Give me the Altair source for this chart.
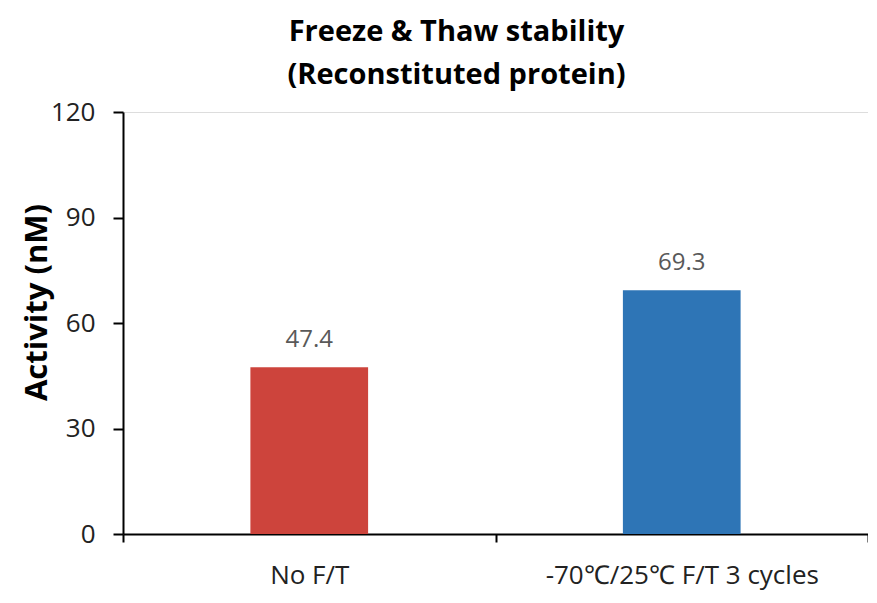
import altair as alt
import pandas as pd

categories = ["No F/T", "-70℃/25℃ F/T 3 cycles"]
values = [47.4, 69.3]
bar_colors = ["#cd443c", "#2e75b6"]
value_labels = ["47.4", "69.3"]
y_ticks = [0, 30, 60, 90, 120]

df = pd.DataFrame({"cat": categories, "val": values, "color": bar_colors, "lab": value_labels})

FONT = "Open Sans"

x = alt.X(
    "cat:N",
    sort=categories,
    title=None,
    scale=alt.Scale(paddingInner=0, paddingOuter=0),
    axis=alt.Axis(
        labelAngle=0,
        tickBand="extent",
        tickSize=8,
        tickWidth=2,
        tickColor="black",
        domainColor="black",
        domainWidth=2,
        labelFont=FONT,
        labelFontSize=26,
        labelColor="#222222",
        labelPadding=20,
        labelLimit=500,
    ),
)

y = alt.Y(
    "val:Q",
    title="Activity (nM)",
    scale=alt.Scale(domain=[0, 120], nice=False),
    axis=alt.Axis(
        values=y_ticks,
        grid=False,
        tickSize=10,
        tickWidth=2,
        tickColor="black",
        domainColor="black",
        domainWidth=2,
        labelFont=FONT,
        labelFontSize=26,
        labelColor="#222222",
        labelPadding=18,
        titleFont=FONT,
        titleFontSize=31,
        titleFontWeight="bold",
        titleColor="black",
        titleX=-86,
        titleY=190,
        titleAngle=-90,
        titleAlign="center",
        titleBaseline="middle",
    ),
)

bars = alt.Chart(df).mark_bar(width=alt.RelativeBandSize(0.316)).encode(
    x=x,
    y=y,
    color=alt.Color("color:N", scale=None),
)

texts = alt.Chart(df).mark_text(
    font=FONT, fontSize=24, color="#595959", baseline="alphabetic", dy=-20
).encode(
    x=alt.X("cat:N", sort=categories),
    y=alt.Y("val:Q"),
    text="lab:N",
)

chart = (
    alt.layer(bars, texts)
    .properties(
        width=745,
        height=422,
        title=alt.TitleParams(
            text=["Freeze & Thaw stability", "(Reconstituted protein)"],
            font=FONT,
            fontSize=29,
            fontWeight="bold",
            color="black",
            anchor="middle",
            dx=-39,
            offset=9,
            lineHeight=43,
        ),
        padding={"left": 115, "top": 104, "right": 0, "bottom": 60},
        autosize=alt.AutoSizeParams(type="none"),
    )
    .configure_view(strokeWidth=0, stroke="transparent")
    .configure(background="white")
)

chart.save("out.html", embed_options={"renderer": "svg", "actions": False})
